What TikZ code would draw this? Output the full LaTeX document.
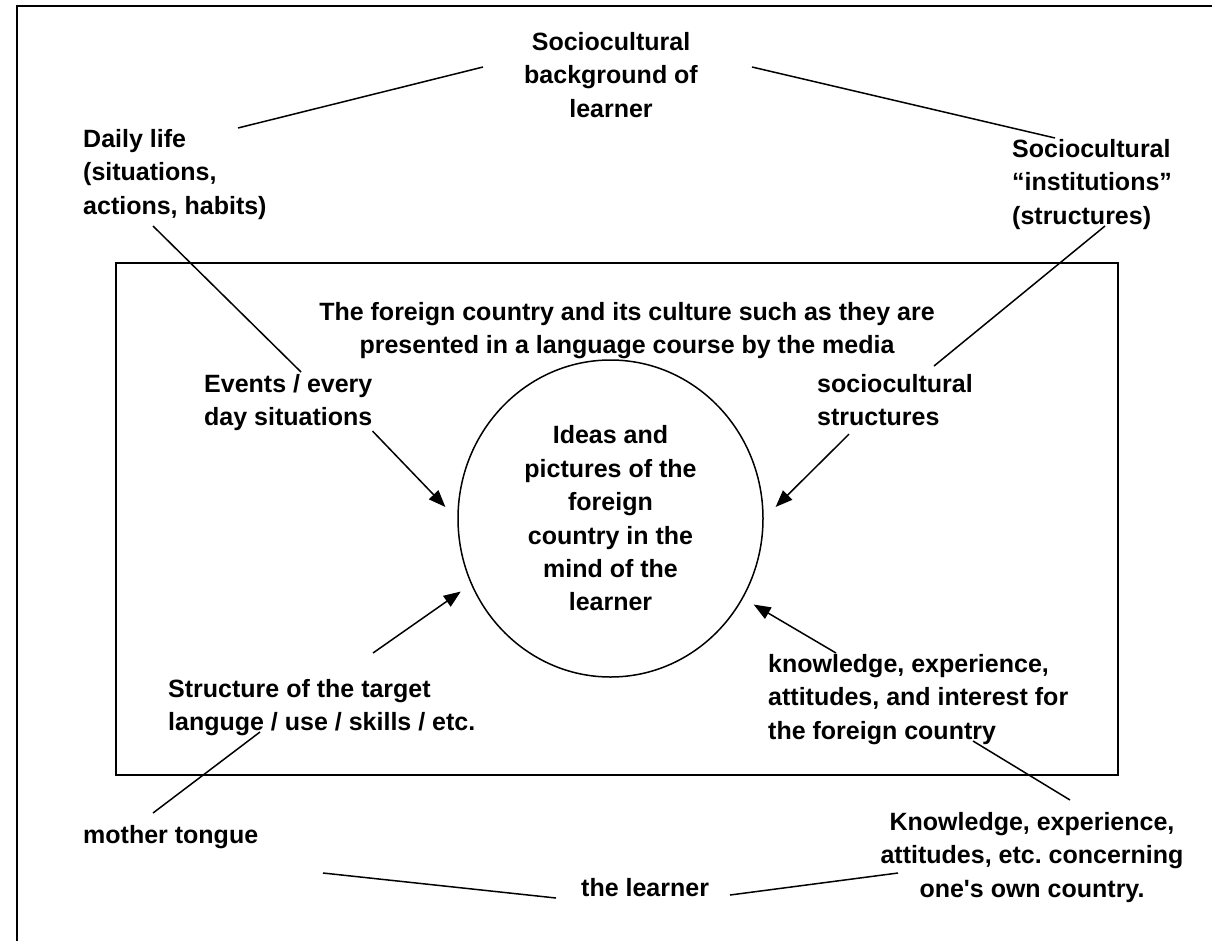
\documentclass[tikz,border=0pt]{standalone}
\usepackage{fontspec}
\setmainfont{Liberation Sans}
\usetikzlibrary{arrows.meta,shapes.geometric}
\frenchspacing

\begin{document}
\begin{tikzpicture}[x=1pt, y=-1pt,
    lbl/.style={font=\fontsize{25}{33.4}\selectfont\bfseries, inner sep=0pt, align=left, anchor=north west},
    clbl/.style={lbl, align=center, anchor=north},
    link/.style={line width=1.5pt},
    arr/.style={-{Triangle[length=17pt,width=13pt]}, line width=1.5pt}
]
\useasboundingbox (0,0) rectangle (1212,940);
\clip (0,0) rectangle (1212,940);
\draw[line width=2pt] (17,6) rectangle (1240,970);
\draw[line width=1.6pt] (116,263) rectangle (1118,775);

\node[clbl] (bg) at (611,32) {Sociocultural\\background of\\learner};
\node[lbl] (daily) at (83,129) {Daily life\\(situations,\\actions, habits)};
\node[lbl] (inst) at (1012,139) {Sociocultural\\“institutions”\\(structures)};
\node[clbl] (media) at (627,302) {The foreign country and its culture such as they are\\presented in a language course by the media};
\node[lbl] (events) at (204,374) {Events / every\\day situations};
\node[lbl] (sostr) at (817,374) {sociocultural\\structures};
\node[ellipse, draw, line width=1.5pt, minimum width=305pt, minimum height=317pt, inner sep=0pt, outer sep=13pt,
      font=\fontsize{25}{33.4}\selectfont\bfseries, align=center] (mind) at (610.5,518.5)
      {Ideas and\\pictures of the\\foreign\\country in the\\mind of the\\learner};
\node[lbl] (target) at (168,679) {Structure of the target\\languge / use / skills / etc.};
\node[lbl] (know) at (768,654) {knowledge, experience,\\attitudes, and interest for\\the foreign country};
\node[lbl] (mother) at (83,825) {mother tongue};
\node[clbl] (own) at (1032,812) {Knowledge, experience,\\attitudes, etc. concerning\\one\textquotesingle s own country.};
\node[lbl] (learner) at (581,878) {the learner};

\draw[link] ([shift={(155,-1)}]daily.north west) -- ([shift={(-128,35)}]bg.north);
\draw[link] ([shift={(141,35)}]bg.north) -- ([shift={(43,-1)}]inst.north west);
\draw[link] ([shift={(70,97)}]daily.north west) -- ([shift={(97,-2)}]events.north west);
\draw[link] ([shift={(93,87)}]inst.north west) -- ([shift={(117,-8)}]sostr.north west);
\draw[link] ([shift={(92,53)}]target.north west) -- ([shift={(70,-12)}]mother.north west);
\draw[link] ([shift={(205,87)}]know.north west) -- ([shift={(38,-12)}]own.north);
\draw[link] ([shift={(240,48)}]mother.north west) -- ([shift={(-25,20)}]learner.north west);
\draw[link] ([shift={(149,17)}]learner.north west) -- ([shift={(-134,61)}]own.north);

\draw[arr] (events.south east) -- (mind.176);
\draw[arr] ([shift={(32,8)}]sostr.south west) -- (mind.4);
\draw[arr] ([shift={(205,-26)}]target.north west) -- (mind.206);
\draw[arr] ([shift={(68,-1)}]know.north west) -- (mind.329);
\end{tikzpicture}
\end{document}
